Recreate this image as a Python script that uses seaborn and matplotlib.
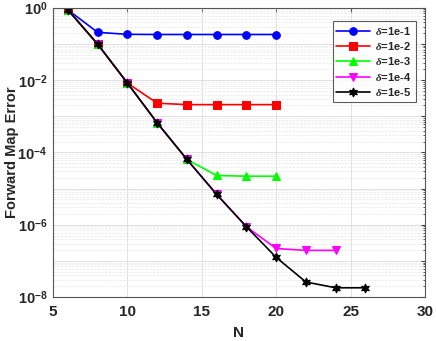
import numpy as np
import pandas as pd
import matplotlib
matplotlib.use("Agg")
import matplotlib.pyplot as plt
import matplotlib.ticker as mticker
import seaborn as sns

# values
n_1 = [6, 8, 10, 12, 14, 16, 18, 20]
err_1 = [0.88, 0.21, 0.185, 0.183, 0.183, 0.183, 0.183, 0.183]
n_2 = [6, 8, 10, 12, 14, 16, 18, 20]
err_2 = [0.88, 0.099, 0.0083, 0.0023, 0.0021, 0.0021, 0.0021, 0.0021]
n_3 = [6, 8, 10, 12, 14, 16, 18, 20]
err_3 = [0.88, 0.099, 0.0083, 6.6e-4, 6.4e-5, 2.3e-5, 2.2e-5, 2.2e-5]
n_4 = [6, 8, 10, 12, 14, 16, 18, 20, 22, 24]
err_4 = [0.88, 0.099, 0.0083, 6.6e-4, 6.4e-5, 6.9e-6, 8.8e-7, 2.2e-7, 1.95e-7, 1.95e-7]
n_5 = [6, 8, 10, 12, 14, 16, 18, 20, 22, 24, 26]
err_5 = [0.88, 0.099, 0.0083, 6.6e-4, 6.4e-5, 6.9e-6, 8.8e-7, 1.25e-7, 2.6e-8, 1.8e-8, 1.8e-8]

labels = [r"$\delta$=1e-1", r"$\delta$=1e-2", r"$\delta$=1e-3", r"$\delta$=1e-4", r"$\delta$=1e-5"]
colors = ["#0000ff", "#ff0000", "#00ff00", "#ff00ff", "#000000"]
markers = ["o", "s", "^", "v", (6, 1, 0)]

frames = []
for lab, n, e in zip(labels, [n_1, n_2, n_3, n_4, n_5], [err_1, err_2, err_3, err_4, err_5]):
    frames.append(pd.DataFrame({"N": n, "err": e, "delta": lab}))
df = pd.concat(frames, ignore_index=True)

sns.set_style("white")
plt.rcParams["font.family"] = ["Liberation Sans", "DejaVu Sans"]
plt.rcParams["font.weight"] = "bold"
plt.rcParams["mathtext.fontset"] = "custom"
plt.rcParams["mathtext.rm"] = "Liberation Sans:bold"
plt.rcParams["mathtext.bf"] = "Liberation Sans:bold"
plt.rcParams["mathtext.it"] = "Liberation Serif:italic"

fig = plt.figure(figsize=(4.36, 3.41), dpi=100)
ax = fig.add_axes([0.1216, 0.129, 0.853, 0.848])

for lab, c, m in zip(labels, colors, markers):
    sub = df[df["delta"] == lab]
    ms = 6.5 if isinstance(m, tuple) else 5.5
    sns.lineplot(data=sub, x="N", y="err", ax=ax, color=c, marker=m, markersize=ms,
                 markeredgecolor=c, linewidth=1.2, label=lab)

ax.set_yscale("log")
ax.set_xlim(5, 30)
ax.set_ylim(1e-8, 1)
ax.set_xticks([5, 10, 15, 20, 25, 30])
ax.yaxis.set_major_locator(mticker.LogLocator(base=10, numticks=20))
ax.yaxis.set_minor_locator(mticker.LogLocator(base=10, subs=np.arange(2, 10), numticks=100))
ax.yaxis.set_major_formatter(mticker.FuncFormatter(
    lambda v, p: r"10$^{\mathbf{%d}}$" % round(np.log10(v)) if round(np.log10(v)) % 2 == 0 else ""))
ax.yaxis.set_minor_formatter(mticker.NullFormatter())

ax.grid(True, which="major", color="#dcdcdc", linewidth=0.6)
ax.grid(True, which="minor", axis="y", color="#e8e8e8", linewidth=0.5, linestyle="--")
ax.tick_params(which="both", direction="in", top=True, right=True, color="#444444")
ax.tick_params(axis="x", which="major", length=3, pad=6, labelsize=11)
ax.tick_params(axis="y", which="major", length=3, pad=4, labelsize=10.5)
ax.tick_params(which="minor", length=1.5)
for s in ax.spines.values():
    s.set_color("#555555")
    s.set_linewidth(0.8)

ax.set_xlabel("N", fontsize=11, fontweight="bold")
ax.xaxis.set_label_coords(0.5, -0.1)
ax.set_ylabel("Forward Map Error", fontsize=10.5, fontweight="bold")
ax.yaxis.set_label_coords(-0.092, 0.5)

leg = ax.legend(loc="upper right", fontsize=8, frameon=True, fancybox=False,
                edgecolor="#333333", handlelength=3.0, borderpad=0.35, labelspacing=0.3,
                handletextpad=0.5, bbox_to_anchor=(0.99, 0.975))
leg.get_frame().set_linewidth(0.8)
for t in leg.get_texts():
    t.set_fontweight("bold")

fig.savefig("out.png", dpi=100)
